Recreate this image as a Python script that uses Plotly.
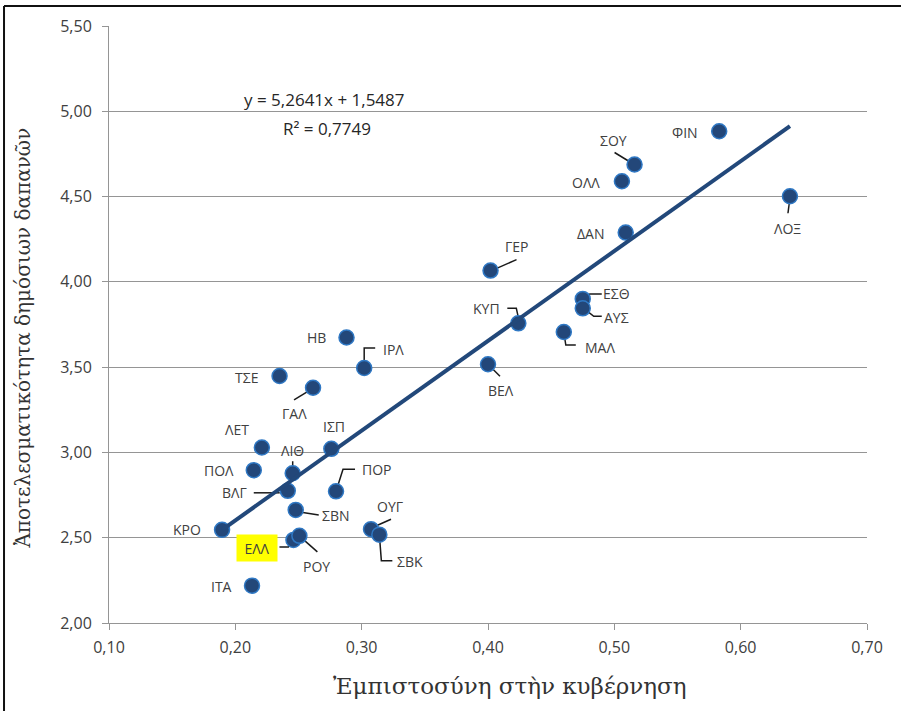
import plotly.graph_objects as go

# ---------------- data ----------------
countries = ["ΦΙΝ", "ΣΟΥ", "ΟΛΛ", "ΛΟΞ", "ΔΑΝ", "ΓΕΡ", "ΕΣΘ", "ΑΥΣ", "ΚΥΠ", "ΜΑΛ",
             "ΒΕΛ", "ΗΒ", "ΙΡΛ", "ΤΣΕ", "ΓΑΛ", "ΛΕΤ", "ΙΣΠ", "ΠΟΛ", "ΛΙΘ", "ΒΛΓ",
             "ΠΟΡ", "ΣΒΝ", "ΚΡΟ", "ΟΥΓ", "ΣΒΚ", "ΕΛΛ", "ΡΟΥ", "ΙΤΑ"]
trust = [0.583, 0.516, 0.506, 0.639, 0.509, 0.402, 0.475, 0.475, 0.424, 0.460,
         0.400, 0.288, 0.302, 0.235, 0.2615, 0.221, 0.276, 0.2146, 0.2454, 0.2415,
         0.2797, 0.2478, 0.1895, 0.3074, 0.314, 0.246, 0.2507, 0.2132]
efficiency = [4.883, 4.688, 4.590, 4.502, 4.289, 4.066, 3.900, 3.845, 3.757, 3.706,
              3.517, 3.674, 3.495, 3.448, 3.379, 3.029, 3.021, 2.896, 2.878, 2.775,
              2.772, 2.663, 2.546, 2.550, 2.518, 2.487, 2.511, 2.219]
trend_slope = 5.2641
trend_intercept = 1.5487
r_squared = 0.7749
highlight = "ΕΛΛ"

x_title = "Ἐμπιστοσύνη στὴν κυβέρνηση"
y_title = "Ἀποτελεσματικότητα δημόσιων δαπανῶν"

# ---------------- label styling (screen pixel offsets, y down) ----------------
label_style = {
    "ΦΙΝ": (-34, 1, None),
    "ΣΟΥ": (-21, -24, [(-20, -12), (-2, -1)]),
    "ΟΛΛ": (-36, 1, None),
    "ΛΟΞ": (-2, 32, [(0, 2), (-2, 17)]),
    "ΔΑΝ": (-35, 1, None),
    "ΓΕΡ": (26, -24, [(1, 0), (26, -11)]),
    "ΕΣΘ": (34, -5, [(1, 1), (7, -5), (19, -5)]),
    "ΑΥΣ": (34, 9, [(1, 0), (11, 8), (19, 8)]),
    "ΚΥΠ": (-32, -15, [(-11, -15), (-2, -15), (0, -6)]),
    "ΜΑΛ": (36, 15, [(0, 0), (2, 13), (12, 13)]),
    "ΒΕΛ": (13, 26, [(1, 1), (12, 12)]),
    "ΗΒ": (-30, 0, None),
    "ΙΡΛ": (29, -19, [(0, -2), (0, -20), (11, -20)]),
    "ΤΣΕ": (-33, 1, None),
    "ΓΑΛ": (-19, 26, [(-19, 12), (-1, 1)]),
    "ΛΕΤ": (-25, -18, None),
    "ΙΣΠ": (3, -22, None),
    "ΠΟΛ": (-35, 0, None),
    "ΛΙΘ": (0, -23, [(0, -12), (0, 0)]),
    "ΒΛΓ": (-53, 2, [(-34, 2), (-8, 2)]),
    "ΠΟΡ": (41, -22, [(0, 0), (7, -22), (19, -22)]),
    "ΣΒΝ": (40, 6, [(4, 2), (23, 5)]),
    "ΚΡΟ": (-35, 0, None),
    "ΟΥΓ": (19, -23, [(2, -2), (20, -10)]),
    "ΣΒΚ": (31, 27, [(0, 0), (2, 26), (13, 26)]),
    "ΕΛΛ": (-36, 8, [(-14, 7), (-5, 7), (-1, 1)]),
    "ΡΟΥ": (17, 31, [(1, 1), (18, 16)]),
    "ΙΤΑ": (-31, 1, None),
}

TEXT = "#404040"
GRID = "#959595"
LABEL_FONT = dict(family="Open Sans, Noto Sans, sans-serif", size=14, color=TEXT)

fig = go.Figure()

fig.add_trace(go.Scatter(
    x=trust, y=efficiency, mode="markers",
    marker=dict(size=15, color="#234779", line=dict(color="#2F78C4", width=1.5)),
    hoverinfo="text", text=countries, showlegend=False,
))

x_line = [min(trust), max(trust)]
y_line = [trend_slope * v + trend_intercept for v in x_line]
fig.add_trace(go.Scatter(
    x=x_line, y=y_line, mode="lines",
    line=dict(color="#22487A", width=4), hoverinfo="skip", showlegend=False,
))

annotations = []
shapes = []
for name, xv, yv in zip(countries, trust, efficiency):
    dx, dy, leader = label_style[name]
    ann = dict(x=xv, y=yv, xref="x", yref="y", text=name, showarrow=False,
               xshift=dx, yshift=-dy, font=LABEL_FONT)
    if name == highlight:
        ann.update(bgcolor="#FFFF00", width=38, height=24, borderpad=1)
    annotations.append(ann)
    if leader:
        path = "M " + " L ".join(f"{px} {-py}" for px, py in leader)
        shapes.append(dict(type="path", xref="x", yref="y",
                           xsizemode="pixel", ysizemode="pixel",
                           xanchor=xv, yanchor=yv, path=path,
                           line=dict(color="#1a1a1a", width=1.5), layer="between"))

def fmt(v, d):
    return f"{v:.{d}f}".replace(".", ",")

eq_font = dict(family="Open Sans, Noto Sans, sans-serif", size=17, color="#262626")
annotations.append(dict(xref="paper", yref="paper", x=0.2849, y=0.8777,
                        text=f"y = {fmt(trend_slope, 4)}x + {fmt(trend_intercept, 4)}",
                        showarrow=False, font=eq_font, xanchor="center", yanchor="middle"))
annotations.append(dict(xref="paper", yref="paper", x=0.2875, y=0.8291,
                        text=f"R² = {fmt(r_squared, 4)}",
                        showarrow=False, font=eq_font, xanchor="center", yanchor="middle"))

# axis titles
annotations.append(dict(xref="paper", yref="paper", x=0.5288, y=-0.1055,
                        text=x_title, showarrow=False, xanchor="center", yanchor="middle",
                        font=dict(family="DejaVu Serif, serif", size=23, color="#333333")))
annotations.append(dict(xref="paper", yref="paper", x=-0.1147, y=0.4765,
                        text=y_title, showarrow=False, textangle=-90,
                        xanchor="center", yanchor="middle",
                        font=dict(family="DejaVu Serif, serif", size=20, color="#333333")))

# outer frame (top and left edges visible)
shapes.append(dict(type="line", xref="paper", yref="paper", x0=-0.1385, x1=1.046,
                   y0=1.0335, y1=1.0335, line=dict(color="#111111", width=2)))
shapes.append(dict(type="line", xref="paper", yref="paper", x0=-0.1385, x1=-0.1385,
                   y0=1.0335, y1=-0.2, line=dict(color="#111111", width=2)))

tick_font = dict(family="Open Sans, Noto Sans, sans-serif", size=16, color=TEXT)

fig.update_layout(
    width=901, height=711,
    margin=dict(l=109, r=34, t=26, b=88),
    paper_bgcolor="white", plot_bgcolor="white",
    separators=",.",
    annotations=annotations, shapes=shapes,
    xaxis=dict(range=[0.10, 0.70], dtick=0.1, tick0=0.1, tickformat=".2f",
               showgrid=False, zeroline=False, showline=True, linecolor=GRID, linewidth=1,
               ticks="outside", ticklen=6, tickcolor=GRID, tickfont=tick_font,
               ticklabelstandoff=4),
    yaxis=dict(range=[2.00, 5.50], dtick=0.5, tick0=2.0, tickformat=".2f",
               showgrid=True, gridcolor=GRID, gridwidth=1, zeroline=False,
               showline=True, linecolor=GRID, linewidth=1,
               ticks="outside", ticklen=6, tickcolor=GRID, tickfont=tick_font,
               ticklabelstandoff=7),
)

fig.write_html("out.html", config={"displayModeBar": False},
               post_script="document.body.style.margin='0';document.body.style.overflow='hidden';")
